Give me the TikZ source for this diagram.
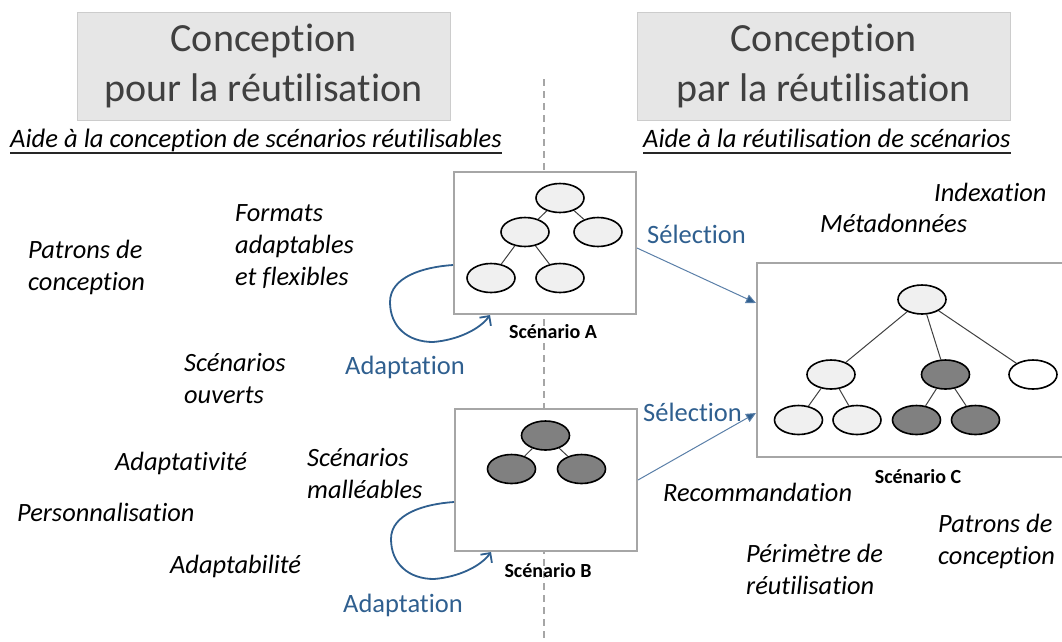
\documentclass[tikz,border=0pt]{standalone}
\usepackage{fontspec}
\setmainfont{Carlito}[Ligatures=NoCommon]
\usepackage{tikz}
\usetikzlibrary{shapes.geometric,arrows.meta,positioning,calc}

\definecolor{bleu}{HTML}{2F5F8F}
\definecolor{bleutrait}{HTML}{5A7FA8}
\definecolor{fondtitre}{HTML}{E6E6E6}
\definecolor{bordtitre}{HTML}{CCCCCC}
\definecolor{bordcadre}{HTML}{A6A6A6}
\definecolor{noeudclair}{HTML}{F0F0F0}
\definecolor{noeudfonce}{HTML}{808080}

\begin{document}
\begin{tikzpicture}[x=1pt,y=-1pt,
    titre/.style={draw=bordtitre, fill=fondtitre, text=black!75, line width=1pt,
        minimum width=373pt, minimum height=108pt, align=center,
        font=\fontsize{40}{50}\selectfont},
    aide/.style={font=\fontsize{26.6}{30}\selectfont\itshape, inner sep=0pt, text depth=6pt, anchor=base west},
    souligne/.style={line width=2pt, black!85},
    cadre/.style={draw=bordcadre, line width=2pt, fill=white},
    clair/.style={ellipse, draw, line width=1.6pt, fill=noeudclair,
        minimum width=48pt, minimum height=29pt, inner sep=0pt},
    fonce/.style={clair, fill=noeudfonce},
    blanc/.style={clair, fill=white},
    arete/.style={black!75, line width=1pt},
    mot/.style={font=\fontsize{26.4}{32}\selectfont\itshape, align=left, inner sep=0pt, anchor=base west},
    etiq/.style={font=\fontsize{26.5}{30}\selectfont, text=bleu, inner sep=0pt, anchor=base west},
    nom/.style={font=\fontsize{20}{22}\selectfont\bfseries, inner sep=0pt, anchor=base},
    selec/.style={bleutrait, line width=1pt, -{Triangle[length=10pt,width=9pt,fill=bleu]}},
    adapt/.style={bleu, line width=1.8pt, -{Straight Barb[length=7pt,width=14pt]}}
]
\useasboundingbox (0,0) rectangle (1062,641);

% ligne de separation
\draw[gray!70, line width=1.5pt, dash pattern=on 7pt off 5pt] (544,79) -- (544,641);

% titres
\node[titre] (titreG) at (263.5,66) {Conception\\pour la réutilisation};
\node[titre] (titreD) at (823.5,66) {Conception\\par la réutilisation};

\node[aide] (aideG) at (10,147) {Aide à la conception de scénarios réutilisables};
\node[aide] (aideD) at (643,147) {Aide à la réutilisation de scénarios};
\draw[souligne] (aideG.south west) -- (aideG.south east);
\draw[souligne] (aideD.south west) -- (aideD.south east);

% scenarios
\node[cadre, minimum width=182pt, minimum height=142pt] (boxA) at (545,243) {};
\node[cadre, minimum width=182pt, minimum height=142pt] (boxB) at (546,480) {};
\node[cadre, minimum width=313pt, minimum height=194pt] (boxC) at (913.5,360) {};

\node[clair] (a1) at (560,198) {};
\node[clair] (a2) at (525,232) {};
\node[clair] (a3) at (598,232) {};
\node[clair] (a4) at (491,278) {};
\node[clair] (a5) at (560,278) {};
\draw[arete] (a1) -- (a2) (a1) -- (a3) (a2) -- (a4) (a2) -- (a5);

\node[fonce] (b1) at (545.5,435.5) {};
\node[fonce] (b2) at (511.5,469) {};
\node[fonce] (b3) at (581.5,469) {};
\draw[arete] (b1) -- (b2) (b1) -- (b3);

\node[clair] (c1) at (922,299.5) {};
\node[clair] (c2) at (831,374.5) {};
\node[fonce] (c3) at (945.5,374.5) {};
\node[blanc] (c4) at (1033,374.5) {};
\node[clair] (c5) at (798.5,420) {};
\node[clair] (c6) at (857,420) {};
\node[fonce] (c7) at (916.5,420) {};
\node[fonce] (c8) at (975.5,420) {};
\draw[arete] (c1) -- (c2) (c1) -- (c3) (c1) -- (c4)
    (c2) -- (c5) (c2) -- (c6) (c3) -- (c7) (c3) -- (c8);

\node[nom] (nomA) at (553,338) {Scénario A};
\node[nom] (nomB) at (548,577) {Scénario B};
\node[nom] (nomC) at (918,483) {Scénario C};

% fleches
\draw[selec] ([yshift=-5pt]boxA.east) -- ([yshift=57pt]boxC.west);
\draw[selec] (boxB.east) -- ([yshift=-53pt]boxC.west);
\node[etiq] (selA) at (647,243) {Sélection};
\node[etiq] (selB) at (643,421) {Sélection};

\draw[adapt] ([yshift=-94pt]boxA.north west) .. controls +(-30,2) and +(0,-25) .. ++(-63,37)
    .. controls +(0,25) and +(-25,0) .. ++(43,40)
    .. controls +(25,-2) and +(-10,14) .. ([xshift=37pt]boxA.south west);
\draw[adapt] ([yshift=-94pt]boxB.north west) .. controls +(-30,2) and +(0,-25) .. ++(-63,37)
    .. controls +(0,25) and +(-25,0) .. ++(43,40)
    .. controls +(25,-2) and +(-10,14) .. ([xshift=37pt]boxB.south west);
\node[etiq] (adA) at (345,374) {Adaptation};
\node[etiq] (adB) at (343,612) {Adaptation};

% mots cles, gauche (base = derniere ligne)
\node[mot] (patG) at (28,290) {Patrons de\\conception};
\node[mot] (formats) at (235,285) {Formats\\adaptables\\et flexibles};
\node[mot] (ouverts) at (184,403) {Scénarios\\ouverts};
\node[mot] (malleables) at (307,498) {Scénarios\\malléables};
\node[mot] (adaptativite) at (115,470) {Adaptativité};
\node[mot] (perso) at (17,521) {Personnalisation};
\node[mot] (adaptabilite) at (170,573) {Adaptabilité};

% mots cles, droite
\node[mot] (index) at (934,201) {Indexation};
\node[mot] (meta) at (820,232) {Métadonnées};
\node[mot] (recomm) at (663,501) {Recommandation};
\node[mot] (patD) at (938,564) {Patrons de\\conception};
\node[mot] (perim) at (746,594) {Périmètre de\\réutilisation};
\end{tikzpicture}
\end{document}
